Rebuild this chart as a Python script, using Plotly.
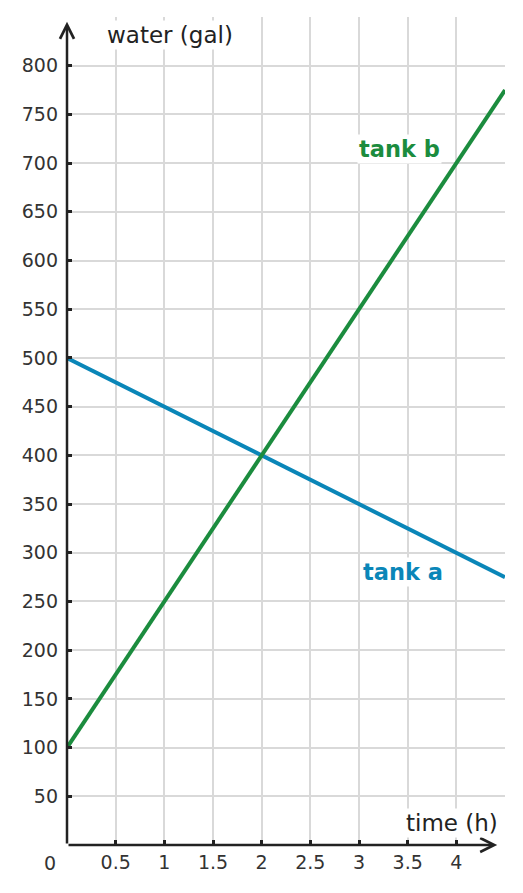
import plotly.graph_objects as go

# data
time_h = [0, 4.5]
tank_a = [500, 275]
tank_b = [100, 775]
x_ticks = [0.5, 1, 1.5, 2, 2.5, 3, 3.5, 4]
x_tick_text = ["0.5", "1", "1.5", "2", "2.5", "3", "3.5", "4"]
y_ticks = [50, 100, 150, 200, 250, 300, 350, 400, 450, 500, 550, 600, 650, 700, 750, 800]
y_tick_text = [str(v) for v in y_ticks]

BLUE = "#0a86b8"
GREEN = "#1b8c3e"
AXIS = "#222222"
GRID = "#d9d9d9"
FONT = "DejaVu Sans"

fig = go.Figure()
fig.add_trace(go.Scatter(x=time_h, y=tank_a, mode="lines",
                         line=dict(color=BLUE, width=4), showlegend=False, hoverinfo="skip"))
fig.add_trace(go.Scatter(x=time_h, y=tank_b, mode="lines",
                         line=dict(color=GREEN, width=4), showlegend=False, hoverinfo="skip"))

fig.update_xaxes(range=[0, 4.5], tickvals=x_ticks, ticktext=x_tick_text,
                 showgrid=True, gridcolor=GRID, gridwidth=2, zeroline=False, showline=False,
                 ticks="inside", ticklen=5, tickwidth=2.5, tickcolor=AXIS, ticklabelstandoff=4,
                 tickfont=dict(family=FONT, size=19, color="#333"), fixedrange=True)
fig.update_yaxes(range=[0, 850], tickvals=y_ticks, ticktext=y_tick_text,
                 showgrid=True, gridcolor=GRID, gridwidth=2, zeroline=False, showline=False,
                 ticks="inside", ticklen=5, tickwidth=2.5, tickcolor=AXIS, ticklabelstandoff=8,
                 tickfont=dict(family=FONT, size=19, color="#333"), fixedrange=True)

annotations = [
    # axis arrows
    dict(x=0, y=845, ax=0, ay=0, axref="x", ayref="y", xref="x", yref="y", text="",
         showarrow=True, arrowhead=5, arrowsize=1.1, arrowwidth=2.5, arrowcolor=AXIS),
    dict(x=4.42, y=0, ax=0, ay=0, axref="x", ayref="y", xref="x", yref="y", text="",
         showarrow=True, arrowhead=5, arrowsize=1.1, arrowwidth=2.5, arrowcolor=AXIS),
    dict(x=0, y=0, xref="x", yref="y", text="0", showarrow=False, xshift=-17, yshift=-18,
         font=dict(family=FONT, size=19, color="#333")),
    dict(x=0.39, y=832, xref="x", yref="y", text="water (gal)", showarrow=False,
         xanchor="left", yanchor="middle", bgcolor="white",
         font=dict(family=FONT, size=23, color="#222")),
    dict(x=4.45, y=22.6, xref="x", yref="y", text="time (h)", showarrow=False,
         xanchor="right", yanchor="middle", bgcolor="white",
         font=dict(family=FONT, size=23, color="#222")),
    dict(x=3.415, y=714.6, xref="x", yref="y", text="<b>tank b</b>", showarrow=False,
         bgcolor="white", font=dict(family=FONT, size=22.5, color=GREEN)),
    dict(x=3.456, y=280, xref="x", yref="y", text="<b>tank a</b>", showarrow=False,
         bgcolor="white", font=dict(family=FONT, size=22.5, color=BLUE)),
]

fig.update_layout(width=523, height=893, margin=dict(l=67, r=18, t=17, b=48),
                  plot_bgcolor="white", paper_bgcolor="white", annotations=annotations,
                  font=dict(family=FONT))

fig.write_html("out.html", config={"displayModeBar": False})
